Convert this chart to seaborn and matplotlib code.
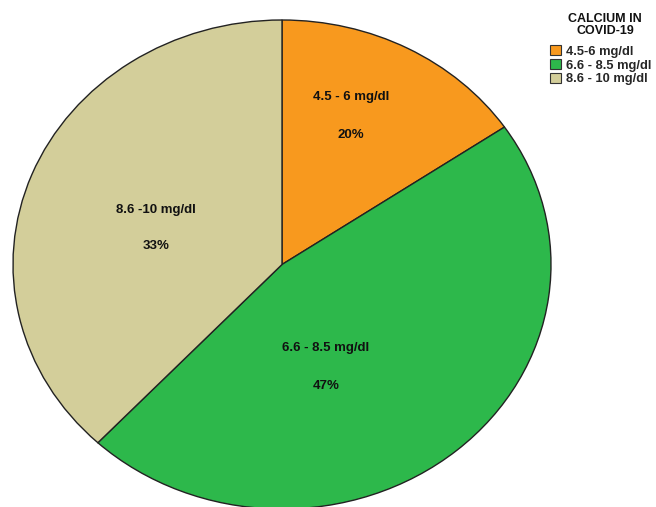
import matplotlib
matplotlib.use("Agg")
import matplotlib.pyplot as plt
import seaborn as sns
from matplotlib.patches import Patch

# calcium levels in covid-19 patients
groups = ['4.5-6 mg/dl', '6.6 - 8.5 mg/dl', '8.6 - 10 mg/dl']
slice_labels = ['4.5 - 6 mg/dl', '6.6 - 8.5 mg/dl', '8.6 -10 mg/dl']
# slice sizes as drawn in the picture
shares = [15.5, 46.5, 38.0]
# percentages printed on the slices
pct_text = ['20%', '47%', '33%']
colors = ['#F8991E', '#2DB84B', '#D3CE9A']

sns.set_style('white')
plt.rcParams['font.family'] = ['Liberation Sans', 'DejaVu Sans']

fig = plt.figure(figsize=(6.56, 5.07), dpi=100)
# pie is stretched into an ellipse like the SPSS output
ax = fig.add_axes([13 / 656, -2 / 507, 538 / 656, 489 / 507])
ax.pie(shares, colors=colors, startangle=90, counterclock=False,
       wedgeprops=dict(edgecolor='#222222', linewidth=1.0))
ax.set_xlim(-1, 1)
ax.set_ylim(-1, 1)
ax.set_aspect('auto')
ax.axis('off')

# label spots in figure pixels (x, y of name line, y of percent line)
label_pos = [(351, 97, 135), (326, 348, 386), (156, 210, 246)]
for name, pct, (px, py1, py2) in zip(slice_labels, pct_text, label_pos):
    fig.text(px / 656, 1 - py1 / 507, name, ha='center', va='center',
             fontsize=9.5, fontweight='bold', color='#111111')
    fig.text(px / 656, 1 - py2 / 507, pct, ha='center', va='center',
             fontsize=9.5, fontweight='bold', color='#111111')

# legend title drawn on its own, centred over the entries
fig.text(605 / 656, 1 - 25 / 507, 'CALCIUM IN\nCOVID-19', ha='center', va='center',
         fontsize=9, fontweight='bold', linespacing=1.1, color='#111111')

handles = [Patch(facecolor=c, edgecolor='#333333', linewidth=0.8) for c in colors]
leg = fig.legend(handles, groups, loc='upper left',
                 bbox_to_anchor=(550 / 656, 1 - 45 / 507),
                 frameon=False, fontsize=9.3, handlelength=0.85, handleheight=0.85,
                 handletextpad=0.35, labelspacing=0.1, borderaxespad=0,
                 borderpad=0)
for t in leg.get_texts():
    t.set_fontweight('bold')

fig.savefig('out.png', dpi=100)
